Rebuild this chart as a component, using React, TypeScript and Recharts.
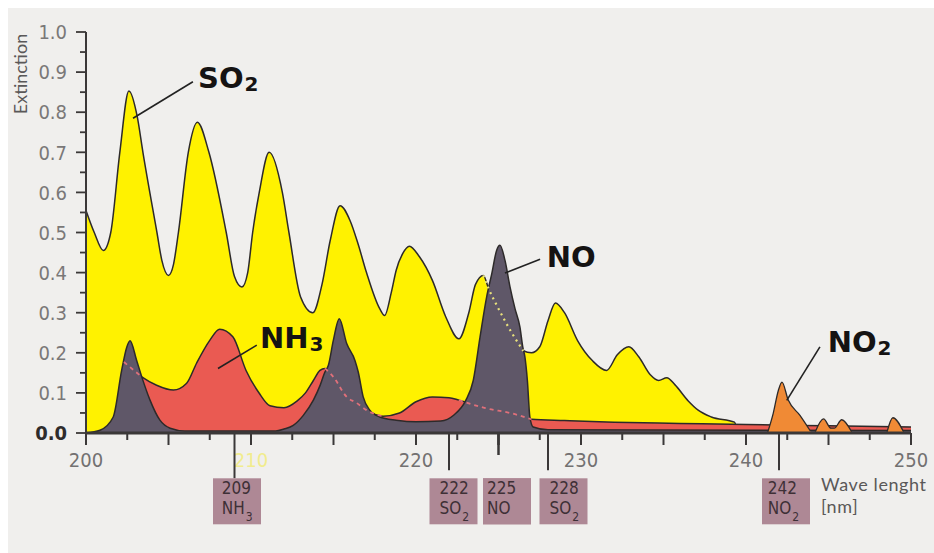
import React from 'react';
import { ComposedChart, Area, Line, Scatter, XAxis, YAxis } from 'recharts';

type Pt = { x: number; y: number | null };

const mk = (rows: [number, number | null][]): Pt[] => rows.map(([x, y]) => ({ x, y }));

// Absorption spectra (wavelength in nm, extinction)
const so2 = mk([
  [200, 0.555], [200.5, 0.5], [201.05, 0.455], [201.5, 0.5], [202.05, 0.7], [202.6, 0.853],
  [203.1, 0.79], [203.45, 0.7], [204.3, 0.5], [204.6, 0.43], [205.0, 0.393], [205.3, 0.42],
  [205.6, 0.5], [206.2, 0.7], [206.75, 0.775], [207.45, 0.7], [208.5, 0.5], [209.0, 0.39],
  [209.45, 0.364], [209.8, 0.4], [210.1, 0.5], [210.5, 0.6], [211.1, 0.7], [211.9, 0.6],
  [212.3, 0.5], [213.0, 0.34], [213.75, 0.3], [214.3, 0.37], [214.8, 0.48], [215.4, 0.567],
  [216.0, 0.53], [216.5, 0.47], [217.0, 0.4], [217.8, 0.31], [218.1, 0.293], [218.5, 0.35],
  [218.8, 0.406], [219.2, 0.448], [219.6, 0.466], [220.2, 0.44], [221.0, 0.38], [221.8, 0.29],
  [222.6, 0.235], [223.2, 0.3], [223.6, 0.37], [224.08, 0.393], [224.4, 0.36], [225.0, 0.31],
  [225.8, 0.25], [226.5, 0.205], [227.0, 0.2], [227.5, 0.215], [228.0, 0.28], [228.45, 0.324],
  [229.0, 0.3], [229.8, 0.23], [230.7, 0.18], [231.55, 0.156], [232.2, 0.195], [232.9, 0.215],
  [233.5, 0.19], [234.2, 0.145], [234.7, 0.131], [235.2, 0.138], [235.7, 0.12], [236.5, 0.08],
  [237.1, 0.057], [237.9, 0.04], [239.3, 0.027], [239.5, 0],
]);

const nh3 = mk([
  [202.3, 0.177], [203.38, 0.14], [204.28, 0.119], [205.3, 0.107], [206.1, 0.124], [206.7, 0.174],
  [207.5, 0.231], [208.1, 0.259], [208.9, 0.24], [209.7, 0.156], [210.5, 0.099], [211.15, 0.068],
  [212.0, 0.063], [212.8, 0.08], [213.3, 0.1], [213.78, 0.131], [214.18, 0.156], [214.48, 0.161],
  [214.99, 0.14], [215.8, 0.09], [216.4, 0.075], [217.0, 0.057], [218.0, 0.042], [219.0, 0.05],
  [220.0, 0.078], [221.0, 0.09], [222.0, 0.088], [222.6, 0.082], [224.2, 0.062], [225.8, 0.049],
  [227.0, 0.034], [229.0, 0.031], [232.0, 0.027], [236.0, 0.024], [240.0, 0.021], [245.0, 0.018],
  [250.0, 0.015],
]);

const no = mk([
  [200, 0], [200.85, 0.007], [201.65, 0.04], [202.16, 0.156], [202.47, 0.214], [202.67, 0.23],
  [203.07, 0.181], [203.38, 0.14], [203.88, 0.082], [204.48, 0.032], [205.1, 0.012], [206, 0.005],
  [211.5, 0.005], [212.0, 0.01], [212.56, 0.019], [213.17, 0.044], [213.78, 0.082], [214.2, 0.12],
  [214.48, 0.152], [214.69, 0.169], [214.99, 0.231], [215.35, 0.285], [215.8, 0.223], [216.3, 0.181],
  [216.5, 0.152], [216.8, 0.09], [217.2, 0.057], [217.8, 0.04], [218.8, 0.032], [220.0, 0.028],
  [221.5, 0.03], [222.3, 0.045], [223.0, 0.08], [223.47, 0.131], [223.88, 0.239], [224.28, 0.339],
  [224.59, 0.397], [224.89, 0.456], [225.09, 0.468], [225.39, 0.431], [225.7, 0.364], [226.0, 0.31],
  [226.3, 0.264], [226.47, 0.215], [226.6, 0.19], [226.75, 0.131], [226.9, 0.04], [227.1, 0.015],
  [228, 0.008], [250, 0.006],
]);

const no2 = mk([
  [241.3, 0], [241.65, 0.049], [241.96, 0.106], [242.18, 0.127], [242.56, 0.082], [243.27, 0.044],
  [243.9, 0.005], [244.0, null], [244.2, 0.003], [244.7, 0.035], [245.15, 0.012], [245.35, 0.012],
  [245.8, 0.033], [246.4, 0.003], [247.0, null], [248.55, 0.003], [248.9, 0.038], [249.55, 0.003],
]);

// Stretches where a curve runs behind the NO band
const nh3Behind: [number, number][] = [[202.3, 203.38], [214.48, 218.0], [222.6, 227.0]];
const so2Behind: [number, number][] = [[224.08, 226.9]];

const hiddenPart = (pts: Pt[], spans: [number, number][]): Pt[] =>
  pts.map((p) => (spans.some(([a, b]) => p.x >= a && p.x <= b) ? p : { x: p.x, y: null }));

const xTicks = [200, 202.5, 205, 207.5, 210, 212.5, 215, 217.5, 220, 222.5, 225, 227.5, 230,
  232.5, 235, 237.5, 240, 242.5, 245, 247.5, 250];
const xTickLabels = [200, 210, 220, 230, 240, 250];
const yTicks = [0, 0.05, 0.1, 0.15, 0.2, 0.25, 0.3, 0.35, 0.4, 0.45, 0.5, 0.55, 0.6, 0.65, 0.7,
  0.75, 0.8, 0.85, 0.9, 0.95, 1];

// Characteristic wavelengths marked under the axis
const markers = [
  { nm: 209, gas: 'NH', sub: '3' },
  { nm: 222, gas: 'SO', sub: '2' },
  { nm: 225, gas: 'NO', sub: '' },
  { nm: 228, gas: 'SO', sub: '2' },
  { nm: 242, gas: 'NO', sub: '2' },
];

const gasNames = [
  { x: 206.79, y: 0.861, name: 'SO', sub: '2' },
  { x: 210.55, y: 0.211, name: 'NH', sub: '3' },
  { x: 227.92, y: 0.4135, name: 'NO', sub: '' },
  { x: 244.95, y: 0.201, name: 'NO', sub: '2' },
];

const leaders: Pt[][] = [
  [{ x: 206.48, y: 0.876 }, { x: 202.85, y: 0.785 }],
  [{ x: 210.35, y: 0.219 }, { x: 208.0, y: 0.161 }],
  [{ x: 227.52, y: 0.433 }, { x: 225.39, y: 0.399 }],
  [{ x: 244.48, y: 0.2146 }, { x: 242.47, y: 0.0815 }],
];

const INK = '#3b3838';
const NUM_FONT = "'Liberation Sans Narrow', 'DejaVu Sans Condensed', sans-serif";
const TXT_FONT = "Lato, 'Open Sans', sans-serif";

// marker line length, box shift and text inset
const markerStyle: Record<number, { len: number; shift: number; inset: number }> = {
  209: { len: 45.3, shift: 2.5, inset: 8.7 },
  222: { len: 37.3, shift: 4.5, inset: 10 },
  225: { len: 22, shift: 8.5, inset: 4 },
  228: { len: 37.3, shift: 15.5, inset: 10 },
  242: { len: 37.3, shift: 7, inset: 5.7 },
};

const near = (a: number, b: number) => Math.abs(a - b) < 1e-6;

function XTick(props: any) {
  const { x, y, payload } = props;
  const v: number = payload.value;
  const onGrid = near(v / 2.5, Math.round(v / 2.5));
  const marker = markers.find((m) => near(m.nm, v));
  const parts: React.ReactNode[] = [];
  if (onGrid) {
    const long = near(v / 5, Math.round(v / 5));
    parts.push(<line key="t" x1={x} x2={x} y1={y} y2={y + (long ? 12 : 7)} stroke={INK} strokeWidth={2} />);
  }
  if (xTickLabels.some((t) => near(t, v))) {
    const faint = near(v, 210);
    parts.push(
      <text key="l" x={x} y={y + 34} textAnchor="middle" fontFamily={NUM_FONT} fontSize={20}
        fill={faint ? '#f1ec8e' : '#737171'}>{v}</text>,
    );
  }
  if (marker) {
    const st = markerStyle[marker.nm];
    const boxLeft = x + st.shift - 24;
    const tx = boxLeft + st.inset;
    parts.push(
      <g key="m">
        <line x1={x} x2={x} y1={y} y2={y + st.len} stroke={INK} strokeWidth={2} />
        <rect x={boxLeft} y={y + 45.3} width={48} height={46} fill="#ae8895" />
        <text x={tx} y={y + 61} fontFamily={NUM_FONT} fontSize={17} fill="#3e3036">{marker.nm}</text>
        <text x={tx} y={y + 81} fontFamily={NUM_FONT} fontSize={17} fill="#3e3036">
          {marker.gas}
          {marker.sub && <tspan fontSize={12} dx={1} dy={7}>{marker.sub}</tspan>}
        </text>
      </g>,
    );
  }
  return <g>{parts}</g>;
}

function YTick(props: any) {
  const { x, y, payload } = props;
  const v: number = payload.value;
  const major = near(v * 10, Math.round(v * 10));
  return (
    <g>
      <line x1={x - (major ? 10 : 6)} x2={x} y1={y} y2={y} stroke={INK} strokeWidth={1.8} />
      {major && (
        <text x={x - 19} y={y} dy="0.36em" textAnchor="end" fontFamily={NUM_FONT} fontSize={20}
          fill={v === 0 ? '#2e2c2c' : '#7a7878'} fontWeight={v === 0 ? 'bold' : 'normal'}>
          {v.toFixed(1)}
        </text>
      )}
    </g>
  );
}

function YTitle(props: any) {
  const { viewBox } = props;
  const tx = viewBox.x + 1;
  const ty = viewBox.y + 42;
  return (
    <text x={tx} y={ty} transform={`rotate(-90, ${tx}, ${ty})`} textAnchor="middle"
      fontFamily={TXT_FONT} fontSize={18} fill="#5a5858">Extinction</text>
  );
}

function XTitle(props: any) {
  const { viewBox } = props;
  const tx = viewBox.x + 735;
  return (
    <g fontFamily={TXT_FONT} fontSize={18} fill="#5a5858" letterSpacing={0.6}>
      <text x={tx} y={viewBox.y + 57.5}>Wave lenght</text>
      <text x={tx} y={viewBox.y + 79.5}>[nm]</text>
    </g>
  );
}

function GasName(props: any) {
  const { cx, cy, payload } = props;
  return (
    <text x={cx} y={cy} fontFamily="'DejaVu Sans', sans-serif" fontWeight="bold" fontSize={29} fill="#151313">
      {payload.name}
      {payload.sub && <tspan fontSize={20} dx={1} dy={3}>{payload.sub}</tspan>}
    </text>
  );
}

export default function App() {
  return (
    <div style={{ position: 'absolute', left: 8, top: 8, width: 926, height: 545, background: '#f0efed' }}>
      <ComposedChart width={926} height={545} margin={{ top: 24, right: 23, bottom: 90, left: 18 }}>
        <XAxis dataKey="x" type="number" domain={[200, 250]} allowDataOverflow ticks={xTicks.concat(markers.map((m) => m.nm))}
          interval={0} tickSize={0} tickMargin={0} tickLine={false} tick={<XTick />}
          axisLine={{ stroke: INK, strokeWidth: 3 }} height={30} label={<XTitle />} />
        <YAxis type="number" domain={[0, 1]} allowDataOverflow ticks={yTicks} interval={0} tickSize={0}
          tickMargin={0} tickLine={false} tick={<YTick />} axisLine={{ stroke: INK, strokeWidth: 2 }}
          width={60} label={<YTitle />} />
        <Area data={so2} dataKey="y" type="monotone" fill="#fff200" fillOpacity={1} stroke="#2d2a2a"
          strokeWidth={1.5} dot={false} activeDot={false} isAnimationActive={false} />
        <Area data={nh3} dataKey="y" type="monotone" fill="#ea5a52" fillOpacity={1} stroke="#2d2a2a"
          strokeWidth={1.5} dot={false} activeDot={false} isAnimationActive={false} />
        <Area data={no} dataKey="y" type="monotone" fill="#5f5768" fillOpacity={1} stroke="#2d2a2a"
          strokeWidth={1.5} dot={false} activeDot={false} isAnimationActive={false} />
        <Area data={no2} dataKey="y" type="monotone" fill="#f08a35" fillOpacity={1} stroke="#2d2a2a"
          strokeWidth={1.3} dot={false} activeDot={false} connectNulls={false} isAnimationActive={false} />
        <Line data={hiddenPart(nh3, nh3Behind)} dataKey="y" type="monotone" stroke="#e0707a" strokeWidth={1.8}
          strokeDasharray="4 4" dot={false} activeDot={false} connectNulls={false} isAnimationActive={false} />
        <Line data={hiddenPart(so2, so2Behind)} dataKey="y" type="monotone" stroke="#e9e27c" strokeWidth={2.2}
          strokeDasharray="2 4" dot={false} activeDot={false} connectNulls={false} isAnimationActive={false} />
        {leaders.map((seg, i) => (
          <Line key={i} data={seg} dataKey="y" type="linear" stroke="#222" strokeWidth={1.6}
            dot={false} activeDot={false} isAnimationActive={false} />
        ))}
        <Scatter data={gasNames} dataKey="y" shape={<GasName />} isAnimationActive={false} />
      </ComposedChart>
    </div>
  );
}
